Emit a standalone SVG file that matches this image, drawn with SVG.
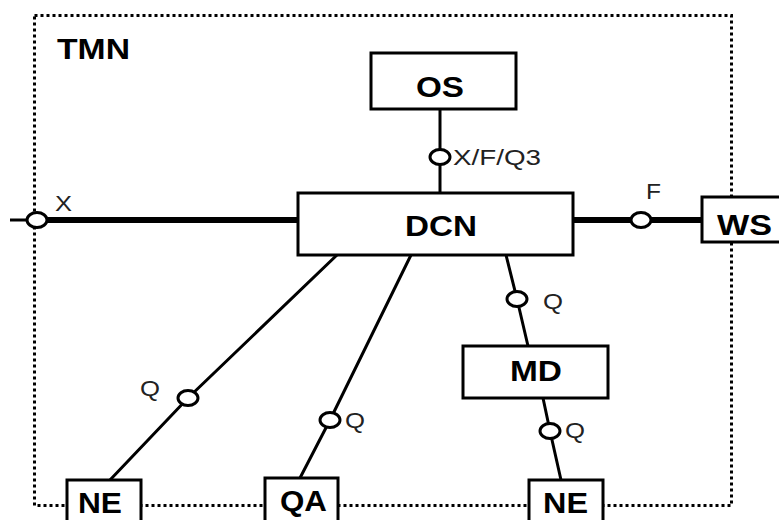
<svg xmlns="http://www.w3.org/2000/svg" width="779" height="520" viewBox="0 0 779 520">
  <style>
    .box { fill: #fff; stroke: #000; stroke-width: 3; }
    .lbl { font-family: "Liberation Sans", Arial, sans-serif; font-weight: bold; font-size: 29px; fill: #000; }
    .if { font-family: "Liberation Sans", Arial, sans-serif; font-size: 22px; fill: #222; }
    .thin { fill: none; stroke: #000; stroke-width: 3; }
    .thick { fill: none; stroke: #000; stroke-width: 6; }
    .port { fill: #fff; stroke: #000; stroke-width: 3; }
    .border { fill: none; stroke: #000; stroke-width: 3; stroke-dasharray: 3 3; }
  </style>
  <rect width="779" height="520" fill="#fff"/>
  <g id="tmn">
    <rect class="border" x="34.5" y="15.5" width="697" height="490"/>
    <text class="lbl" x="57" y="59" textLength="73" lengthAdjust="spacingAndGlyphs">TMN</text>
  </g>
  <g id="connectors">
    <line class="thin" x1="10" y1="220" x2="30" y2="220"/>
    <line class="thick" x1="40" y1="220" x2="298" y2="220"/>
    <line class="thick" x1="573" y1="220" x2="702" y2="220"/>
    <line class="thin" x1="440" y1="109" x2="440" y2="193"/>
    <polyline class="thin" points="337,255 188,398 110,480"/>
    <polyline class="thin" points="411,255 330,420 300,478"/>
    <polyline class="thin" points="506,255 517,299 528,346"/>
    <polyline class="thin" points="543,398 550,431 561,480"/>
    <ellipse class="port" cx="37" cy="220" rx="10" ry="7.5"/>
    <ellipse class="port" cx="641" cy="220" rx="10" ry="7.5"/>
    <ellipse class="port" cx="440" cy="157" rx="10" ry="7.5"/>
    <ellipse class="port" cx="188" cy="398" rx="10" ry="7.5"/>
    <ellipse class="port" cx="330" cy="420" rx="10" ry="7.5"/>
    <ellipse class="port" cx="517" cy="299" rx="10" ry="7.5"/>
    <ellipse class="port" cx="550" cy="431" rx="10" ry="7.5"/>
    <text class="if" x="55" y="211" textLength="17" lengthAdjust="spacingAndGlyphs">X</text>
    <text class="if" x="646" y="199" textLength="15" lengthAdjust="spacingAndGlyphs">F</text>
    <text class="if" x="453" y="165" textLength="88" lengthAdjust="spacingAndGlyphs">X/F/Q3</text>
    <text class="if" x="140" y="396" textLength="20" lengthAdjust="spacingAndGlyphs">Q</text>
    <text class="if" x="345" y="428" textLength="20" lengthAdjust="spacingAndGlyphs">Q</text>
    <text class="if" x="543" y="309" textLength="20" lengthAdjust="spacingAndGlyphs">Q</text>
    <text class="if" x="565" y="438" textLength="20" lengthAdjust="spacingAndGlyphs">Q</text>
  </g>
  <g id="os">
    <rect class="box" x="371" y="53" width="145" height="56"/>
    <text class="lbl" x="416" y="97" textLength="48" lengthAdjust="spacingAndGlyphs">OS</text>
  </g>
  <g id="dcn">
    <rect class="box" x="298" y="193" width="275" height="62"/>
    <text class="lbl" x="405" y="236" textLength="72" lengthAdjust="spacingAndGlyphs">DCN</text>
  </g>
  <g id="ws">
    <rect class="box" x="702" y="197" width="90" height="45"/>
    <text class="lbl" x="717" y="235" textLength="55" lengthAdjust="spacingAndGlyphs">WS</text>
  </g>
  <g id="md">
    <rect class="box" x="463" y="346" width="145" height="52"/>
    <text class="lbl" x="510" y="381" textLength="52" lengthAdjust="spacingAndGlyphs">MD</text>
  </g>
  <g id="ne1">
    <rect class="box" x="67" y="480" width="74" height="50"/>
    <text class="lbl" x="78" y="513" textLength="44" lengthAdjust="spacingAndGlyphs">NE</text>
  </g>
  <g id="qa">
    <rect class="box" x="265" y="478" width="73" height="52"/>
    <text class="lbl" x="280" y="511" textLength="47" lengthAdjust="spacingAndGlyphs">QA</text>
  </g>
  <g id="ne2">
    <rect class="box" x="529" y="480" width="74" height="50"/>
    <text class="lbl" x="543" y="513" textLength="45" lengthAdjust="spacingAndGlyphs">NE</text>
  </g>
</svg>
